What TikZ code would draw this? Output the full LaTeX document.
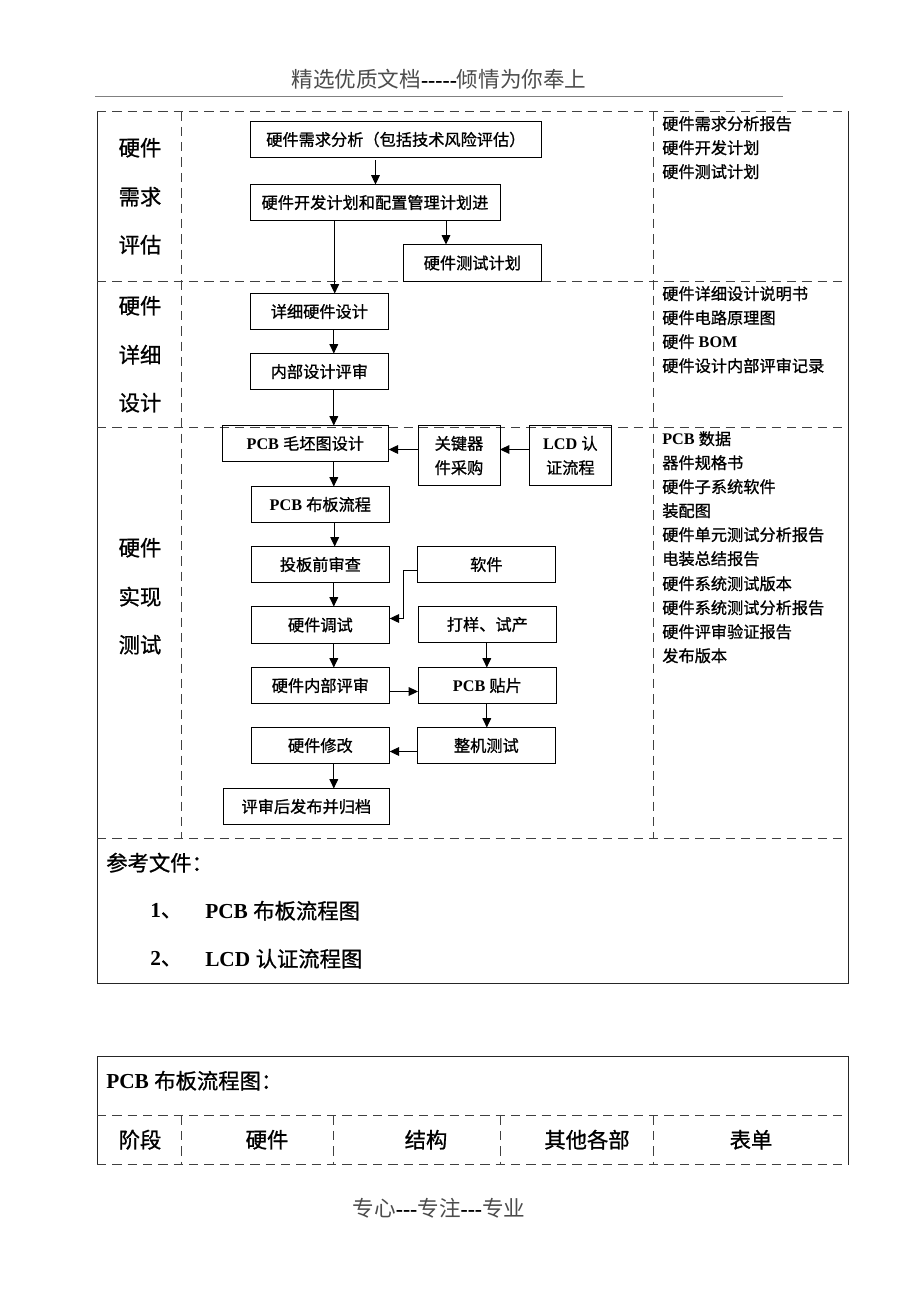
\documentclass[tikz,border=0pt]{standalone}
\usepackage{fontspec}
\usetikzlibrary{arrows.meta}
\setmainfont{Liberation Serif}
\newfontfamily\cjk[FakeBold=0.9]{Noto Sans CJK SC}
\newfontfamily\cjklight{Noto Sans CJK SC}
\newcommand{\C}[1]{{\mdseries\cjk #1}}
\newcommand{\fs}[1]{\fontsize{#1}{#1}\selectfont}
\tikzset{
  px/.style={x=0.75pt,y=-0.75pt,yshift=-0.375pt},
  boxnode/.style={draw=black,line width=0.75pt,inner sep=0pt,outer sep=0pt,align=center,anchor=north west,font=\fs{12.15}\bfseries},
  flow/.style={draw=black,line width=0.75pt,-{Triangle[length=7pt,width=6.5pt]}},
  dashline/.style={draw=black!75,line width=0.75pt,dash pattern=on 7pt off 4.5pt},
  solidline/.style={draw=black!85,line width=0.75pt},
  stage/.style={inner sep=0pt,yshift=0.6pt,font=\fs{16}\bfseries},
  lst/.style={inner sep=0pt,anchor=west,yshift=0.6pt,font=\fs{12.15}\bfseries},
  big/.style={inner sep=0pt,anchor=west,yshift=0.6pt,font=\fs{16}\bfseries},
  pagehead/.style={inner sep=0pt,text=black!70,font=\fs{16.2}}
}
\newcommand{\bx}[6]{\node[boxnode,minimum width=#4*0.75pt-#2*0.75pt,minimum height=#5*0.75pt-#3*0.75pt] (#1) at (#2,#3) {#6};}
\newcommand{\dsh}{{\color{black}\bfseries -{}-{}-}}
\begin{document}
\begin{tikzpicture}[px]
\useasboundingbox (0,-0.5) rectangle (920,1301.5);
% page head and foot
\node[pagehead] (head) at (439,79) {{\cjklight 精选优质文档}\dsh{\color{black}\bfseries -{}-}{\cjklight 倾情为你奉上}};
\coordinate (hl) at (95,95.5); \coordinate (hr) at (783,95.5);
\draw[draw=black!50,line width=0.6pt] (hl) -- (hr);
\node[pagehead] (foot) at (439,1208) {{\cjklight 专心}\dsh{\cjklight 专注}\dsh{\cjklight 专业}};
% upper table frame
\coordinate (tl) at (97,111); \coordinate (tr) at (848,111);
\coordinate (bl) at (97,983); \coordinate (br) at (848,983);
\draw[solidline] (tl) -- (bl) -- (br) -- (tr);
\draw[dashline] (tl) -- (tr);
\foreach \y in {281,427,838} \draw[dashline] (97,\y) -- (848,\y);
\foreach \x in {181.7,653.7} \draw[dashline] (\x,111) -- (\x,838);
% lower table frame
\coordinate (t2l) at (97,1164); \coordinate (t2a) at (97,1056); \coordinate (t2b) at (848,1056); \coordinate (t2r) at (848,1164);
\draw[solidline] (t2l) -- (t2a) -- (t2b) -- (t2r);
\draw[dashline] (97,1115) -- (848,1115);
\draw[dashline] (97,1164) -- (848,1164);
\foreach \x in {181.7,333.7,500,653.7} \draw[dashline] (\x,1115) -- (\x,1164);
% stages
\node[stage] (s1) at (140,148) {\C{硬件}};
\node[stage] (s2) at (140,197) {\C{需求}};
\node[stage] (s3) at (140,245) {\C{评估}};
\node[stage] (s4) at (140,306) {\C{硬件}};
\node[stage] (s5) at (140,355) {\C{详细}};
\node[stage] (s6) at (140,403) {\C{设计}};
\node[stage] (s7) at (140,548) {\C{硬件}};
\node[stage] (s8) at (140,597) {\C{实现}};
\node[stage] (s9) at (140,645) {\C{测试}};
% boxes
\bx{b1}{250}{121}{541.7}{157}{\C{硬件需求分析（包括技术风险评估）}}
\bx{b2}{250}{184}{500}{220}{\C{硬件开发计划和配置管理计划进}}
\bx{b3}{403}{244}{541.7}{281}{\C{硬件测试计划}}
\bx{b4}{250}{293}{388.7}{329}{\C{详细硬件设计}}
\bx{b5}{250}{353}{388.7}{389}{\C{内部设计评审}}
\bx{b6}{222}{425}{388.7}{461}{PCB \C{毛坯图设计}}
\bx{b7}{418}{425}{500}{485}{\C{关键器}\\[6pt]\C{件采购}}
\bx{b8}{529}{425}{611.7}{485}{LCD \C{认}\\[6pt]\C{证流程}}
\bx{b9}{251}{486}{389.7}{522}{PCB \C{布板流程}}
\bx{b10}{251}{546}{389.7}{582}{\C{投板前审查}}
\bx{b11}{417}{546}{555.7}{582}{\C{软件}}
\bx{b12}{251}{606}{389.7}{643}{\C{硬件调试}}
\bx{b13}{418}{606}{556.7}{642}{\C{打样、试产}}
\bx{b14}{251}{667}{389.7}{703}{\C{硬件内部评审}}
\bx{b15}{418}{667}{556.7}{703}{PCB \C{贴片}}
\bx{b16}{251}{727}{389.7}{763}{\C{硬件修改}}
\bx{b17}{417}{727}{555.7}{763}{\C{整机测试}}
\bx{b18}{223}{788}{389.7}{824}{\C{评审后发布并归档}}
% connectors
\coordinate (xa) at (375.5,0); \coordinate (xb) at (334.7,0); \coordinate (xc) at (446,0); \coordinate (xd) at (333.8,0); \coordinate (xe) at (486.8,0);
\coordinate (ya) at (0,449); \coordinate (yb) at (0,691); \coordinate (yc) at (0,751); \coordinate (yd) at (0,618);
\draw[flow] ([yshift=-2.25pt]b1.south -| xa) -- (b2.north -| xa);
\draw[flow] (b2.south -| xb) -- (b4.north -| xb);
\draw[flow] (b2.south -| xc) -- (b3.north -| xc);
\draw[flow] (b4.south -| xd) -- (b5.north -| xd);
\draw[flow] (b5.south -| xd) -- (b6.north -| xd);
\draw[flow] (b6.south -| xd) -- (b9.north -| xd);
\draw[flow] (b7.west |- ya) -- (b6.east |- ya);
\draw[flow] (b8.west |- ya) -- (b7.east |- ya);
\draw[flow] (b9.south -| xb) -- (b10.north -| xb);
\draw[flow] (b10.south -| xd) -- (b12.north -| xd);
\coordinate (k1) at (403,570); \coordinate (k2) at (403,618);
\draw[flow] (b11.west |- k1) -- (k1) -- (k2) -- (b12.east |- k2);
\draw[flow] (b12.south -| xd) -- (b14.north -| xd);
\draw[flow] (b13.south -| xe) -- (b15.north -| xe);
\draw[flow] (b14.east |- yb) -- (b15.west |- yb);
\draw[flow] (b15.south -| xe) -- (b17.north -| xe);
\draw[flow] (b17.west |- yc) -- (b16.east |- yc);
\draw[flow] (b16.south -| xd) -- (b18.north -| xd);
% right-hand list
\node[lst] (r1) at (662,124) {\C{硬件需求分析报告}};
\node[lst] (r2) at (662,148) {\C{硬件开发计划}};
\node[lst] (r3) at (662,172) {\C{硬件测试计划}};
\node[lst] (r4) at (662,294) {\C{硬件详细设计说明书}};
\node[lst] (r5) at (662,318) {\C{硬件电路原理图}};
\node[lst] (r6) at (662,342) {\C{硬件} BOM};
\node[lst] (r7) at (662,366) {\C{硬件设计内部评审记录}};
\node[lst] (r8) at (662,439) {PCB \C{数据}};
\node[lst] (r9) at (662,463) {\C{器件规格书}};
\node[lst] (r10) at (662,487) {\C{硬件子系统软件}};
\node[lst] (r11) at (662,511) {\C{装配图}};
\node[lst] (r12) at (662,535) {\C{硬件单元测试分析报告}};
\node[lst] (r13) at (662,559) {\C{电装总结报告}};
\node[lst] (r14) at (662,584) {\C{硬件系统测试版本}};
\node[lst] (r15) at (662,608) {\C{硬件系统测试分析报告}};
\node[lst] (r16) at (662,632) {\C{硬件评审验证报告}};
\node[lst] (r17) at (662,656) {\C{发布版本}};
% references
\node[big] (f0) at (106,863) {\C{参考文件：}};
\node[big] (f1) at (150,911) {1\C{、}};
\node[big] (f2) at (205,911) {PCB \C{布板流程图}};
\node[big] (f3) at (150,959) {2\C{、}};
\node[big] (f4) at (205,959) {LCD \C{认证流程图}};
% lower table text
\node[big] (p0) at (106,1081) {PCB \C{布板流程图：}};
\node[stage] (p1) at (140,1140) {\C{阶段}};
\node[stage] (p2) at (267,1140) {\C{硬件}};
\node[stage] (p3) at (426,1140) {\C{结构}};
\node[stage] (p4) at (587,1140) {\C{其他各部}};
\node[stage] (p5) at (751,1140) {\C{表单}};
\end{tikzpicture}
\end{document}
